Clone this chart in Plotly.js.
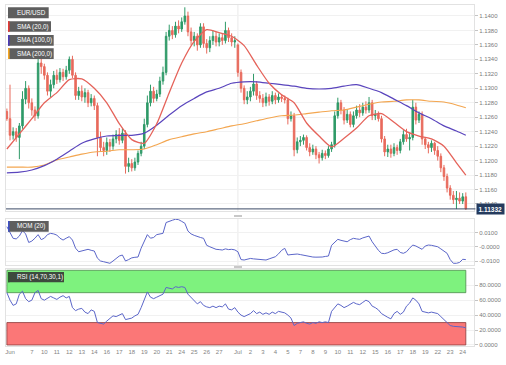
<!DOCTYPE html>
<html><head><meta charset="utf-8">
<script src="https://cdn.plot.ly/plotly-3.0.1.min.js"></script>
<style>html,body{margin:0;padding:0;background:#fff}#chart{width:506px;height:365px}</style>
</head><body><div id="chart"></div>
<script>
// day groups: [tick label, candles in that day]
const dayGroups = [["",1],["Jun",7],["7",4],["10",4],["11",4],["12",4],["13",4],["14",4],["16",4],["17",4],["18",4],["19",4],["20",4],["21",4],["24",4],["25",4],["26",4],["27",4],["",2],["Jul",4],["2",4],["3",4],["4",4],["5",4],["7",4],["8",4],["9",4],["10",4],["11",4],["12",4],["15",4],["16",4],["17",4],["18",4],["19",4],["22",4],["23",4],["24",2]];

const open = [1.1268,1.1258,1.1235,1.1240,1.1232,1.1248,1.1285,1.1300,1.1280,1.1270,1.1262,1.1335,1.1330,1.1318,1.1296,1.1305,1.1318,1.1312,1.1322,1.1316,1.1325,1.1340,1.1318,1.1290,1.1296,1.1288,1.1294,1.1280,1.1286,1.1276,1.1232,1.1218,1.1214,1.1225,1.1220,1.1230,1.1236,1.1228,1.1238,1.1192,1.1196,1.1190,1.1198,1.1210,1.1220,1.1250,1.1280,1.1296,1.1286,1.1292,1.1310,1.1322,1.1372,1.1380,1.1374,1.1386,1.1382,1.1392,1.1400,1.1378,1.1366,1.1372,1.1360,1.1385,1.1362,1.1356,1.1366,1.1372,1.1364,1.1370,1.1366,1.1380,1.1370,1.1364,1.1360,1.1322,1.1300,1.1284,1.1288,1.1296,1.1306,1.1290,1.1286,1.1280,1.1288,1.1282,1.1290,1.1284,1.1288,1.1286,1.1284,1.1258,1.1262,1.1215,1.1226,1.1228,1.1232,1.1218,1.1212,1.1216,1.1208,1.1204,1.1210,1.1207,1.1216,1.1222,1.1262,1.1280,1.1270,1.1256,1.1264,1.1250,1.1262,1.1270,1.1266,1.1274,1.1270,1.1280,1.1262,1.1264,1.1258,1.1230,1.1212,1.1216,1.1210,1.1218,1.1214,1.1226,1.1236,1.1230,1.1232,1.1274,1.1256,1.1264,1.1230,1.1222,1.1218,1.1224,1.1214,1.1206,1.1190,1.1178,1.1162,1.1152,1.1146,1.1148,1.1144,1.1150];
const high = [1.1272,1.1305,1.1246,1.1245,1.1252,1.1296,1.1310,1.1304,1.1286,1.1275,1.1348,1.1343,1.1334,1.1322,1.1312,1.1324,1.1326,1.1328,1.1327,1.1331,1.1344,1.1345,1.1322,1.1302,1.1304,1.1300,1.1298,1.1292,1.1290,1.1280,1.1240,1.1226,1.1232,1.1230,1.1236,1.1242,1.1245,1.1244,1.1242,1.1204,1.1202,1.1204,1.1214,1.1226,1.1258,1.1290,1.1305,1.1302,1.1298,1.1316,1.1330,1.1378,1.1388,1.1386,1.1392,1.1394,1.1398,1.1412,1.1406,1.1384,1.1378,1.1376,1.1390,1.1390,1.1368,1.1372,1.1380,1.1378,1.1376,1.1376,1.1392,1.1384,1.1376,1.1372,1.1362,1.1326,1.1304,1.1296,1.1302,1.1320,1.1310,1.1296,1.1292,1.1294,1.1292,1.1296,1.1294,1.1293,1.1292,1.1290,1.1287,1.1268,1.1266,1.1232,1.1234,1.1236,1.1235,1.1224,1.1222,1.1220,1.1212,1.1215,1.1214,1.1220,1.1226,1.1268,1.1287,1.1284,1.1274,1.1270,1.1268,1.1268,1.1276,1.1278,1.1280,1.1282,1.1288,1.1284,1.1270,1.1268,1.1262,1.1234,1.1222,1.1222,1.1224,1.1222,1.1230,1.1242,1.1244,1.1238,1.1284,1.1280,1.1268,1.1268,1.1232,1.1226,1.1228,1.1226,1.1220,1.1210,1.1194,1.1182,1.1166,1.1158,1.1158,1.1156,1.1155,1.1156];
const low = [1.1255,1.1228,1.1229,1.1226,1.1202,1.1244,1.1278,1.1272,1.1262,1.1255,1.1258,1.1320,1.1312,1.1290,1.1288,1.1300,1.1306,1.1308,1.1310,1.1312,1.1320,1.1314,1.1284,1.1284,1.1282,1.1280,1.1274,1.1275,1.1270,1.1206,1.1212,1.1206,1.1208,1.1212,1.1215,1.1224,1.1222,1.1224,1.1182,1.1184,1.1185,1.1186,1.1194,1.1206,1.1216,1.1246,1.1275,1.1280,1.1282,1.1288,1.1305,1.1318,1.1366,1.1368,1.1370,1.1376,1.1378,1.1388,1.1372,1.1360,1.1358,1.1352,1.1356,1.1356,1.1348,1.1350,1.1360,1.1358,1.1358,1.1360,1.1362,1.1364,1.1358,1.1356,1.1316,1.1294,1.1278,1.1278,1.1282,1.1290,1.1284,1.1280,1.1274,1.1275,1.1276,1.1278,1.1278,1.1280,1.1281,1.1279,1.1250,1.1254,1.1206,1.1210,1.1220,1.1222,1.1214,1.1206,1.1208,1.1202,1.1196,1.1200,1.1202,1.1204,1.1212,1.1218,1.1258,1.1264,1.1250,1.1252,1.1246,1.1246,1.1258,1.1260,1.1262,1.1265,1.1266,1.1256,1.1256,1.1254,1.1225,1.1206,1.1205,1.1204,1.1206,1.1208,1.1210,1.1222,1.1226,1.1214,1.1228,1.1250,1.1252,1.1222,1.1216,1.1210,1.1212,1.1208,1.1200,1.1184,1.1172,1.1156,1.1146,1.1140,1.1133,1.1140,1.1140,1.1132];
const close = [1.1258,1.1235,1.1240,1.1232,1.1248,1.1285,1.1300,1.1280,1.1270,1.1262,1.1335,1.1330,1.1318,1.1296,1.1305,1.1318,1.1312,1.1322,1.1316,1.1325,1.1340,1.1318,1.1290,1.1296,1.1288,1.1294,1.1280,1.1286,1.1276,1.1232,1.1218,1.1214,1.1225,1.1220,1.1230,1.1236,1.1228,1.1238,1.1192,1.1196,1.1190,1.1198,1.1210,1.1220,1.1250,1.1280,1.1296,1.1286,1.1292,1.1310,1.1322,1.1372,1.1380,1.1374,1.1386,1.1382,1.1392,1.1400,1.1378,1.1366,1.1372,1.1360,1.1385,1.1362,1.1356,1.1366,1.1372,1.1364,1.1370,1.1366,1.1380,1.1370,1.1364,1.1366,1.1322,1.1300,1.1284,1.1288,1.1296,1.1306,1.1290,1.1286,1.1280,1.1288,1.1282,1.1290,1.1284,1.1288,1.1286,1.1284,1.1258,1.1262,1.1215,1.1226,1.1228,1.1232,1.1218,1.1212,1.1216,1.1208,1.1204,1.1210,1.1207,1.1216,1.1222,1.1262,1.1280,1.1270,1.1256,1.1264,1.1250,1.1262,1.1270,1.1266,1.1274,1.1270,1.1280,1.1262,1.1264,1.1258,1.1230,1.1212,1.1216,1.1210,1.1218,1.1214,1.1226,1.1236,1.1230,1.1232,1.1274,1.1256,1.1264,1.1230,1.1222,1.1218,1.1224,1.1214,1.1206,1.1190,1.1178,1.1162,1.1152,1.1146,1.1148,1.1144,1.1150,1.11332];

// moving averages, sampled at these candle numbers
const smaIdx = [0,4,8,12,16,20,24,28,32,36,40,44,48,52,56,60,64,68,72,76,80,84,88,92,96,100,104,108,112,116,120,124,128,132,136,140,144,147];
const sma20 = [1.1216,1.1237,1.1258,1.1280,1.1294,1.1312,1.1313,1.1300,1.1280,1.1251,1.1229,1.1224,1.1251,1.1294,1.1335,1.1365,1.1381,1.1377,1.1372,1.1359,1.1332,1.1307,1.1291,1.1280,1.1252,1.1234,1.1219,1.1231,1.1245,1.1262,1.1265,1.1253,1.1240,1.1234,1.1230,1.1220,1.1197,1.1180];
const sma100 = [1.1183,1.1184,1.1187,1.1193,1.1202,1.1213,1.1224,1.1230,1.1234,1.1235,1.1235,1.1238,1.1249,1.1263,1.1276,1.1286,1.1295,1.1300,1.1307,1.1309,1.1309,1.1307,1.1305,1.1303,1.1300,1.1299,1.1300,1.1303,1.1305,1.1300,1.1294,1.1285,1.1276,1.1266,1.1258,1.1248,1.1241,1.1235];
const sma200 = [1.1191,1.1191,1.1191,1.1194,1.1201,1.1205,1.1209,1.1212,1.1213,1.1215,1.1215,1.1216,1.1222,1.1229,1.1233,1.1237,1.1240,1.1244,1.1248,1.1251,1.1255,1.1259,1.1262,1.1263,1.1265,1.1267,1.1269,1.1270,1.1274,1.1278,1.1281,1.1282,1.1284,1.1284,1.1282,1.1281,1.1277,1.1273];

const mom = [0.0141,0.0100,0.0059,0.0055,0.0075,0.0113,0.0090,0.0030,0.0040,0.0060,0.0085,0.0050,0.0060,0.0085,0.0094,0.0090,0.0082,0.0060,0.0047,0.0060,0.0071,0.0047,-0.0010,-0.0035,-0.0030,-0.0022,-0.0018,-0.0025,-0.0030,-0.0080,-0.0100,-0.0105,-0.0110,-0.0116,-0.0100,-0.0080,-0.0065,-0.0058,-0.0100,-0.0090,-0.0078,-0.0074,-0.0072,-0.0010,0.0040,0.0085,0.0060,0.0065,0.0085,0.0088,0.0094,0.0170,0.0180,0.0186,0.0193,0.0190,0.0178,0.0165,0.0110,0.0090,0.0080,0.0071,0.0065,0.0059,0.0010,0.0000,-0.0010,-0.0018,-0.0020,-0.0023,-0.0015,-0.0020,-0.0018,-0.0022,-0.0035,-0.0090,-0.0093,-0.0088,-0.0082,-0.0085,-0.0088,-0.0090,-0.0092,-0.0093,-0.0085,-0.0078,-0.0070,-0.0050,-0.0025,-0.0011,-0.0058,-0.0055,-0.0052,-0.0051,-0.0055,-0.0060,-0.0066,-0.0070,-0.0072,-0.0073,-0.0074,-0.0072,-0.0068,-0.0065,0.0010,0.0028,0.0052,0.0045,0.0038,0.0035,0.0050,0.0059,0.0055,0.0052,0.0062,0.0070,0.0075,0.0035,0.0005,-0.0025,-0.0046,-0.0048,-0.0042,-0.0030,-0.0022,-0.0018,-0.0040,-0.0046,-0.0035,-0.0010,0.0012,0.0005,-0.0005,-0.0018,0.0005,0.0012,0.0010,0.0005,0.0000,-0.0015,-0.0030,-0.0046,-0.0090,-0.0116,-0.0116,-0.0110,-0.0088,-0.0090];

const rsi = [70,60,53,55,68,72,62,58,60,70,73,62,60,63,65,63,61,64,66,63,65,50,46,48,49,44,42,47,45,30,29,28,32,36,39,38,40,42,34,35,36,39,41,50,62,71,64,62,64,66,68,77,76,75,78,77,78,77,68,64,60,55,58,53,51,50,52,50,52,51,55,48,47,50,44,40,38,40,42,46,42,44,41,43,41,44,42,45,44,43,40,36,26,29,30,31,29,28,30,29,31,30,31,30,45,50,55,53,50,52,54,57,55,54,57,60,58,52,50,47,42,39,37,35,42,45,41,44,52,56,63,60,55,45,44,43,44,43,42,38,34,30,26,25,25,24,24,23];
const rsiUpper = 70, rsiLower = 30;

// ---- build categories ----
const cats = [], tickVals = [], tickText = [];
dayGroups.forEach((g, gi) => {
  for (let k = 0; k < g[1]; k++) {
    const c = gi + ":" + k;
    if (k === 0 && g[0] !== "") { tickVals.push(c); tickText.push(g[0]); }
    cats.push(c);
  }
});
const N = cats.length;
const smaX = smaIdx.map(i => cats[i]);
const julCat = tickVals[tickText.indexOf("Jul")];

const L = 6, R = 474, T = 5, B = 346;
const px = p => (p - L) / (R - L), py = p => (B - p) / (B - T);
const FONT = 'Arial, "Liberation Sans", sans-serif';

const traces = [
  {type:'candlestick', x:cats, open:open, high:high, low:low, close:close, xaxis:'x', yaxis:'y',
   increasing:{line:{color:'#2f9a68', width:1}, fillcolor:'#2f9a68'},
   decreasing:{line:{color:'#e86a5c', width:1}, fillcolor:'#e86a5c'},
   whiskerwidth:0, hoverinfo:'skip'},
  {type:'scatter', mode:'lines', x:smaX, y:sma200, xaxis:'x', yaxis:'y', line:{color:'#f3a650', width:1.1, shape:'spline', smoothing:0.7}, hoverinfo:'skip'},
  {type:'scatter', mode:'lines', x:smaX, y:sma100, xaxis:'x', yaxis:'y', line:{color:'#5a45bd', width:1.2, shape:'spline', smoothing:0.7}, hoverinfo:'skip'},
  {type:'scatter', mode:'lines', x:smaX, y:sma20, xaxis:'x', yaxis:'y', line:{color:'#e5635a', width:1.3, shape:'spline', smoothing:0.6}, hoverinfo:'skip'},
  {type:'scatter', mode:'lines', x:cats, y:mom, xaxis:'x2', yaxis:'y2', line:{color:'#5b66c9', width:1}, hoverinfo:'skip'},
  {type:'scatter', mode:'lines', x:cats, y:rsi, xaxis:'x3', yaxis:'y3', line:{color:'#5b66c9', width:1}, hoverinfo:'skip'}
];

const baseX = {type:'category', categoryorder:'array', categoryarray:cats, range:[-0.281, 149.62],
  showgrid:false, showline:true, mirror:true, linecolor:'#e2e2e2', linewidth:1, ticks:'', zeroline:false,
  showticklabels:false, fixedrange:true, rangeslider:{visible:false}};
const baseY = {side:'right', showgrid:true, gridcolor:'#f1f1f1', gridwidth:1, showline:true, mirror:true,
  linecolor:'#e2e2e2', zeroline:false, ticks:'outside', ticklen:3, tickcolor:'#c4c4c4',
  tickfont:{family:FONT, size:6, color:'#7a7a7a'}, fixedrange:true};

const shapes = [
  // RSI zones
  {type:'rect', xref:'x3', yref:'y3', x0:cats[0], x1:cats[N-1], y0:rsiUpper, y1:100, fillcolor:'#7ef27e', line:{color:'#4d8a4d', width:0.8}, layer:'between'},
  {type:'rect', xref:'x3', yref:'y3', x0:cats[0], x1:cats[N-1], y0:0, y1:rsiLower, fillcolor:'#fb7777', line:{color:'#8a3b3b', width:0.8}, layer:'between'},
  // month separator
  {type:'line', xref:'x', yref:'y domain', x0:julCat, x1:julCat, y0:0, y1:1, line:{color:'#e9e9e9', width:1}, layer:'below'},
  {type:'line', xref:'x2', yref:'y2 domain', x0:julCat, x1:julCat, y0:0, y1:1, line:{color:'#e9e9e9', width:1}, layer:'below'},
  // last price line
  {type:'line', xref:'paper', yref:'y', x0:0, x1:1.003, y0:close[N-1], y1:close[N-1], line:{color:'#3c4b66', width:1}},
  // panel resize handles
  {type:'rect', xref:'paper', yref:'paper', x0:px(234), x1:px(242), y0:py(217), y1:py(215), fillcolor:'#c8c8c8', line:{width:0}},
  {type:'rect', xref:'paper', yref:'paper', x0:px(234), x1:px(242), y0:py(268), y1:py(266), fillcolor:'#c8c8c8', line:{width:0}}
];
const annotations = [];
function tag(x0, x1, y0, y1, text, bar, bg) {
  shapes.push({type:'rect', xref:'paper', yref:'paper', x0:px(x0), x1:px(x1), y0:py(y1), y1:py(y0), fillcolor:bg, line:{width:0}});
  if (bar) shapes.push({type:'rect', xref:'paper', yref:'paper', x0:px(x0), x1:px(x0+1.6), y0:py(y1), y1:py(y0), fillcolor:bar, line:{width:0}});
  annotations.push({xref:'paper', yref:'paper', x:px(x0+6.5), y:py((y0+y1)/2), xanchor:'left', yanchor:'middle',
    text:text, showarrow:false, font:{family:FONT, size:6.3, color:'#ffffff'}});
}
tag(8, 48.7, 7.3, 18.3, 'EUR/USD', null, '#5e5e5e');
tag(8, 51, 21.3, 31.7, 'SMA (20,0)', '#e53935', '#5e5e5e');
tag(8, 53.7, 35, 45.7, 'SMA (100,0)', '#4a3ab5', '#5e5e5e');
tag(8, 53.7, 48.3, 59, 'SMA (200,0)', '#f5a623', '#5e5e5e');
tag(8, 48.7, 221, 231.7, 'MOM (20)', '#3f51c5', '#5e5e5e');
tag(8, 64, 272, 282.3, 'RSI (14,70,30,1)', '#2c5a2c', '#3d4a3d');

annotations.push({xref:'paper', yref:'y', x:1.004, y:close[N-1], xanchor:'left', yanchor:'middle',
  text:'<b>' + close[N-1].toFixed(5) + '</b>', showarrow:false, bgcolor:'#253b5e', borderpad:1.5,
  font:{family:FONT, size:6.5, color:'#ffffff'}});

const layout = {
  width:506, height:365, margin:{l:6, r:32, t:5, b:19}, paper_bgcolor:'#ffffff', plot_bgcolor:'#ffffff',
  showlegend:false, dragmode:false, hovermode:false,
  font:{family:FONT},
  xaxis: Object.assign({}, baseX, {anchor:'y'}),
  xaxis2: Object.assign({}, baseX, {anchor:'y2', matches:'x'}),
  xaxis3: Object.assign({}, baseX, {anchor:'y3', matches:'x', showticklabels:true, tickvals:tickVals, ticktext:tickText,
    tickfont:{family:FONT, size:6, color:'#858585'}}),
  yaxis: Object.assign({}, baseY, {anchor:'x', domain:[py(211), 1], range:[1.11303, 1.14152], tick0:1.114, dtick:0.002, tickformat:'.4f'}),
  yaxis2: Object.assign({}, baseY, {anchor:'x2', domain:[py(265), py(219)], range:[-0.0128, 0.01947],
    tickvals:[0.01, 0, -0.01], ticktext:['0.0100','-0.0000','-0.0100']}),
  yaxis3: Object.assign({}, baseY, {anchor:'x3', domain:[0, py(269)], range:[-1.36, 101.7], tickvals:[0,20,40,60,80], tickformat:'.4f'}),
  shapes:shapes, annotations:annotations
};
Plotly.newPlot('chart', traces, layout, {staticPlot:true, displayModeBar:false});
</script></body></html>
